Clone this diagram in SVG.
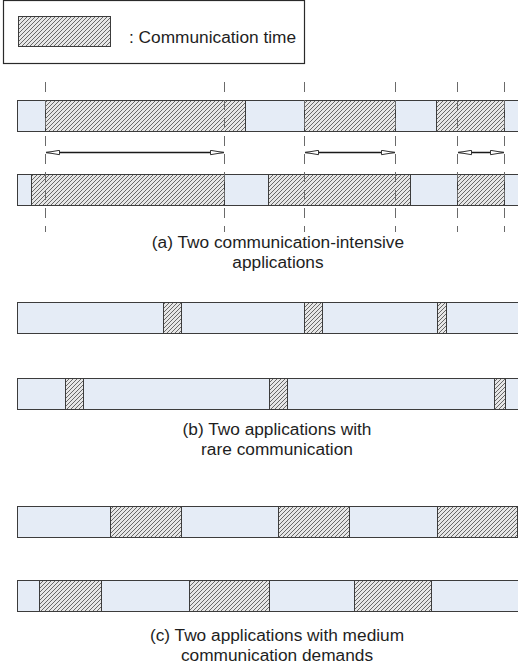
<svg xmlns="http://www.w3.org/2000/svg" width="518" height="670" viewBox="0 0 518 670">
  <defs>
    <pattern id="hatch" patternUnits="userSpaceOnUse" width="4" height="4">
      <rect width="4" height="4" fill="#e6e6e6"/>
      <path d="M-1,1 L1,-1 M0,4 L4,0 M3,5 L5,3" stroke="#5a5a5a" stroke-width="0.9"/>
    </pattern>
    <marker id="open-arrow" viewBox="0 0 14 6" refX="14" refY="3" markerWidth="14" markerHeight="6" markerUnits="userSpaceOnUse" orient="auto-start-reverse">
      <path d="M0.5,0.8 L13.5,3 L0.5,5.2 Z" fill="#ffffff" stroke="#333333" stroke-width="1"/>
    </marker>
    <style>
      .bar { fill: #e5ecf6; stroke: #3c3c3c; stroke-width: 1; }
      .comm { fill: url(#hatch); stroke: #3c3c3c; stroke-width: 1; }
      .guide { stroke: #6a6a6a; stroke-width: 1; stroke-dasharray: 10 8; fill: none; }
      .span { stroke: #1a1a1a; stroke-width: 1.3; fill: none; marker-start: url(#open-arrow); marker-end: url(#open-arrow); }
      .label { font-family: "Liberation Sans", Arial, sans-serif; font-size: 17.3px; fill: #1e1e1e; }
      .caption { font-family: "Liberation Sans", Arial, sans-serif; font-size: 17.3px; fill: #1e1e1e; text-anchor: middle; }
    </style>
  </defs>

  <!-- legend -->
  <g id="legend">
    <rect x="3.5" y="0.5" width="301" height="63" fill="#ffffff" stroke="#2a2a2a" stroke-width="1.2"/>
    <rect class="comm" x="18.5" y="16.5" width="92" height="30"/>
    <text class="label" x="129" y="43">: Communication time</text>
  </g>

  <!-- (a) two communication-intensive applications -->
  <g id="a-app1">
    <rect class="bar" x="17.5" y="100.5" width="510" height="31"/>
    <rect class="comm" x="45.5" y="100.5" width="200" height="31"/>
    <rect class="comm" x="304.5" y="100.5" width="91" height="31"/>
    <rect class="comm" x="436.5" y="100.5" width="68" height="31"/>
  </g>
  <g id="a-app2">
    <rect class="bar" x="17.5" y="174.5" width="510" height="31"/>
    <rect class="comm" x="31.5" y="174.5" width="193" height="31"/>
    <rect class="comm" x="268.5" y="174.5" width="142" height="31"/>
    <rect class="comm" x="457.5" y="174.5" width="47" height="31"/>
  </g>
  <g id="connectors">
    <path class="guide" d="M45.5,82 V232 M224.5,82 V232 M304.5,82 V232 M395.5,82 V232 M457.5,82 V232 M504.5,82 V232"/>
    <line class="span" x1="46" y1="152.5" x2="224" y2="152.5"/>
    <line class="span" x1="305" y1="152.5" x2="395" y2="152.5"/>
    <line class="span" x1="458" y1="152.5" x2="504" y2="152.5"/>
  </g>
  <g id="a-caption">
    <text class="caption" x="278" y="248">(a) Two communication-intensive</text>
    <text class="caption" x="278" y="268">applications</text>
  </g>

  <!-- (b) two applications with rare communication -->
  <g id="b-app1">
    <rect class="bar" x="17.5" y="302.5" width="510" height="31"/>
    <rect class="comm" x="163.5" y="302.5" width="18" height="31"/>
    <rect class="comm" x="304.5" y="302.5" width="18" height="31"/>
    <rect class="comm" x="437.5" y="302.5" width="9" height="31"/>
  </g>
  <g id="b-app2">
    <rect class="bar" x="17.5" y="378.5" width="510" height="31"/>
    <rect class="comm" x="65.5" y="378.5" width="18" height="31"/>
    <rect class="comm" x="269.5" y="378.5" width="18" height="31"/>
    <rect class="comm" x="494.5" y="378.5" width="11" height="31"/>
  </g>
  <g id="b-caption">
    <text class="caption" x="277" y="435">(b) Two applications with</text>
    <text class="caption" x="277" y="455">rare communication</text>
  </g>

  <!-- (c) two applications with medium communication demands -->
  <g id="c-app1">
    <rect class="bar" x="17.5" y="506.5" width="510" height="31"/>
    <rect class="comm" x="110.5" y="506.5" width="71" height="31"/>
    <rect class="comm" x="278.5" y="506.5" width="71" height="31"/>
    <rect class="comm" x="437.5" y="506.5" width="80" height="31"/>
  </g>
  <g id="c-app2">
    <rect class="bar" x="17.5" y="580.5" width="510" height="31"/>
    <rect class="comm" x="39.5" y="580.5" width="62" height="31"/>
    <rect class="comm" x="189.5" y="580.5" width="80" height="31"/>
    <rect class="comm" x="354.5" y="580.5" width="77" height="31"/>
  </g>
  <g id="c-caption">
    <text class="caption" x="277" y="641">(c) Two applications with medium</text>
    <text class="caption" x="277" y="661">communication demands</text>
  </g>
</svg>
